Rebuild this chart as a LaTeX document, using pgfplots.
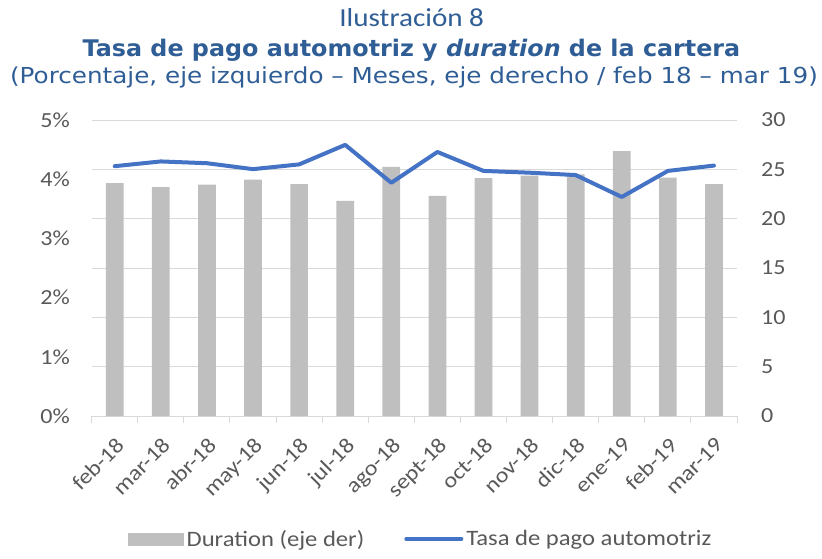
\documentclass[border=0pt]{standalone}
\usepackage{pgfplots}
\pgfplotsset{compat=1.18}
\usepackage{fontspec}
\setmainfont{Carlito}[FakeStretch=1.12]
\newfontfamily\titlereg{DejaVu Sans}[FakeStretch=1.12]
\newfontfamily\titlebold{DejaVu Sans}[FakeStretch=1.04]
\newfontfamily\titlelight{Carlito}[FakeStretch=1.12]
\definecolor{titleblue}{HTML}{2F5D95}
\definecolor{linecol}{HTML}{4472C4}
\definecolor{barcol}{HTML}{BFBFBF}
\definecolor{gridcol}{HTML}{D9D9D9}
\definecolor{labcol}{HTML}{595959}
\begin{document}
\begin{tikzpicture}
\useasboundingbox (0,0) rectangle (822pt,558pt);
% titles
\node[anchor=base, text=titleblue, inner sep=0pt] at (411.7pt,531.3pt) {\titlelight\fontsize{26}{30}\selectfont Ilustración 8};
\node[anchor=base, text=titleblue, inner sep=0pt] at (411.5pt,501.3pt) {\titlebold\bfseries\fontsize{22.9}{27}\selectfont Tasa de pago automotriz y \itshape duration\upshape{} de la cartera};
\node[anchor=base, text=titleblue, inner sep=0pt] at (414pt,474.7pt) {\titlereg\fontsize{22}{26}\selectfont (Porcentaje, eje izquierdo – Meses, eje derecho / feb 18 – mar 19)};
% bars, right axis
\begin{axis}[
  scale only axis, width=645.3pt, height=296pt,
  at={(91.7pt,142pt)}, anchor=south west,
  xmin=-0.5, xmax=13.5, ymin=0, ymax=30,
  ytick={0,5,...,30},
  axis y line*=right, axis x line*=bottom,
  y axis line style={draw=none},
  x axis line style={draw=gridcol, line width=1pt, -},
  ymajorgrids, grid style={draw=gridcol, line width=1pt},
  major tick length=0pt,
  xtick={0,...,13},
  xticklabels={feb-18,mar-18,abr-18,may-18,jun-18,jul-18,ago-18,sept-18,oct-18,nov-18,dic-18,ene-19,feb-19,mar-19},
  extra x ticks={-0.5,0.5,...,13.5},
  extra x tick labels={},
  extra x tick style={grid=none, major tick length=7pt, tick align=outside, tick style={draw=gridcol, line width=1pt}},
  /pgf/number format/assume math mode=true,
  ticklabel style={font=\fontsize{21.5}{25}\selectfont, text=labcol},
  xticklabel style={xshift=0pt, yshift=-20pt, rotate=45, anchor=north east, inner sep=0pt},
  yticklabel style={anchor=west, inner sep=0pt, xshift=24pt},
  ybar, bar width=17.7pt,
]
\addplot[fill=barcol, draw=none] coordinates {
(0,23.6) (1,23.2) (2,23.45) (3,23.95) (4,23.5) (5,21.8) (6,25.25)
(7,22.3) (8,24.1) (9,24.35) (10,24.5) (11,26.85) (12,24.15) (13,23.5)};
\end{axis}
% line, left axis
\begin{axis}[
  scale only axis, width=645.3pt, height=296pt,
  at={(91.7pt,142pt)}, anchor=south west,
  xmin=-0.5, xmax=13.5, ymin=0, ymax=5,
  ytick={0,1,...,5},
  yticklabels={0\%,1\%,2\%,3\%,4\%,5\%},
  axis y line*=left, axis x line=none,
  y axis line style={draw=none},
  major tick length=0pt,
  ticklabel style={font=\fontsize{21.5}{25}\selectfont, text=labcol},
  yticklabel style={anchor=east, inner sep=0pt, xshift=-21.7pt},
  legend columns=2,
  legend style={draw=none, fill=none, at={(0.51,-0.4155)}, anchor=center,
    font=\fontsize{22}{26}\selectfont, text=labcol,
    /tikz/every odd column/.append style={column sep=1pt},
    /tikz/every even column/.append style={column sep=38pt}},
]
\addlegendimage{legend image code/.code={\fill[barcol] (0pt,-6pt) rectangle (55pt,6pt);}}
\addlegendentry{Duration (eje der)}
\addplot[linecol, line width=4pt, line join=round, line cap=round,
  legend image code/.code={\draw[linecol, line width=4pt] (0pt,0pt) -- (55pt,0pt);}] coordinates {
(0,4.22) (1,4.30) (2,4.27) (3,4.17) (4,4.25) (5,4.58) (6,3.94)
(7,4.46) (8,4.14) (9,4.11) (10,4.07) (11,3.70) (12,4.14) (13,4.23)};
\addlegendentry{Tasa de pago automotriz}
\end{axis}
\end{tikzpicture}
\end{document}
